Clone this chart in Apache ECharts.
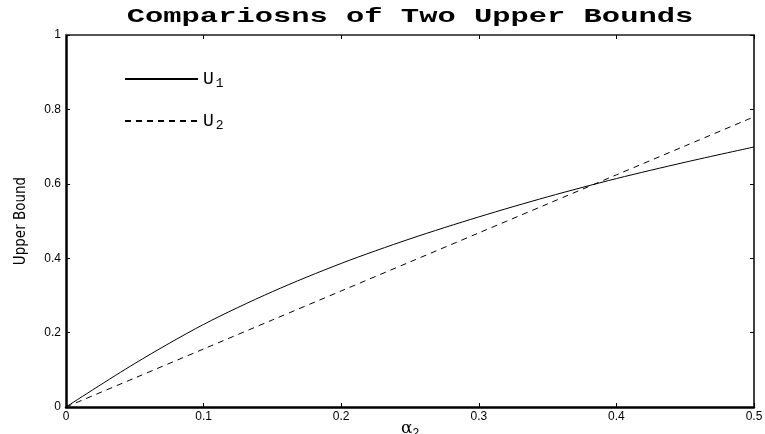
<!DOCTYPE html>
<html style="height: 100%">
<head>
  <meta charset="utf-8">
  <title>Comparisons of Two Upper Bounds</title>
  <script src="https://cdn.jsdelivr.net/npm/echarts@6/dist/echarts.min.js"></script>
</head>
<body style="height: 100%; margin: 0; background: #fff">
  <div id="main" style="width: 765px; height: 434px"></div>
  <script type="text/javascript">
    // values
    var alpha = [0, 0.05, 0.1, 0.15, 0.2, 0.25, 0.3, 0.35, 0.4, 0.45, 0.5];
    var u1 = [0, 0.117, 0.222, 0.31, 0.386, 0.452, 0.511, 0.565, 0.614, 0.658, 0.699];
    var u2 = [0, 0.078, 0.156, 0.234, 0.312, 0.39, 0.468, 0.546, 0.624, 0.702, 0.78];
    var xTicks = [0, 0.1, 0.2, 0.3, 0.4, 0.5];
    var yTicks = [0, 0.2, 0.4, 0.6, 0.8, 1];

    var labelFont = { fontFamily: 'Liberation Sans, Arial, sans-serif', fontSize: 12, color: '#000' };

    var option = {
      backgroundColor: '#fff',
      animation: false,
      graphic: [
        {
          type: 'text',
          x: 410,
          y: 27,
          scaleX: 1.45,
          style: {
            text: 'Compariosns of Two Upper Bounds',
            fontFamily: 'Liberation Mono, Courier New, monospace',
            fontWeight: 'bold',
            fontSize: 21,
            fill: '#000',
            textAlign: 'center',
            textVerticalAlign: 'bottom'
          }
        }
      ],
      legend: {
        orient: 'vertical',
        left: 124,
        top: 70,
        padding: 0,
        itemWidth: 73,
        itemHeight: 14,
        itemGap: 22,
        itemStyle: { opacity: 0 },
        data: ['U1', 'U2'],
        formatter: function (name) {
          return '{u|U}{s|' + name.slice(1) + '}';
        },
        textStyle: {
          rich: {
            u: { fontFamily: 'Liberation Mono, monospace', fontSize: 18, color: '#000' },
            s: { fontFamily: 'Liberation Mono, monospace', fontSize: 13, color: '#000', padding: [9, 0, 0, 2] }
          }
        }
      },
      grid: { left: 66, right: 11, top: 35, bottom: 27, outerBoundsMode: 'none' },
      xAxis: [
        {
          type: 'value',
          min: xTicks[0],
          max: xTicks[xTicks.length - 1],
          interval: 0.1,
          position: 'bottom',
          name: '{a|α}{s|2}',
          nameLocation: 'middle',
          nameGap: 11,
          nameMoveOverlap: false,
          nameTextStyle: {
            rich: {
              a: { fontFamily: 'DejaVu Serif, serif', fontSize: 17, color: '#000' },
              s: { fontFamily: 'Liberation Sans, sans-serif', fontSize: 12, color: '#000', padding: [10, 0, 0, 0] }
            }
          },
          axisLine: { onZero: false, lineStyle: { color: '#000', width: 2.5 } },
          axisTick: { inside: true, length: 4, lineStyle: { color: '#000', width: 1 } },
          axisLabel: Object.assign({ margin: 4 }, labelFont),
          splitLine: { show: false }
        },
        {
          type: 'value',
          min: xTicks[0],
          max: xTicks[xTicks.length - 1],
          interval: 0.1,
          position: 'top',
          axisLine: { onZero: false, lineStyle: { color: '#555', width: 2 } },
          axisTick: { inside: true, length: 4, lineStyle: { color: '#000', width: 1 } },
          axisLabel: { show: false },
          splitLine: { show: false }
        }
      ],
      yAxis: [
        {
          type: 'value',
          min: yTicks[0],
          max: yTicks[yTicks.length - 1],
          interval: 0.2,
          position: 'left',
          name: 'Upper Bound',
          nameLocation: 'middle',
          nameGap: 37,
          nameMoveOverlap: false,
          nameRotate: 90,
          nameTextStyle: {
            fontFamily: 'Liberation Sans Narrow, Arial Narrow, DejaVu Sans Condensed, sans-serif',
            fontSize: 15,
            color: '#000'
          },
          axisLine: { onZero: false, lineStyle: { color: '#000', width: 2.5 } },
          axisTick: { inside: true, length: 4, lineStyle: { color: '#000', width: 1 } },
          axisLabel: Object.assign({ margin: 5 }, labelFont),
          splitLine: { show: false }
        },
        {
          type: 'value',
          min: yTicks[0],
          max: yTicks[yTicks.length - 1],
          interval: 0.2,
          position: 'right',
          axisLine: { onZero: false, lineStyle: { color: '#000', width: 1.5 } },
          axisTick: { inside: true, length: 4, lineStyle: { color: '#000', width: 1 } },
          axisLabel: { show: false },
          splitLine: { show: false }
        }
      ],
      series: [
        {
          name: 'U1',
          type: 'line',
          symbol: 'none',
          smooth: 0.3,
          color: '#000',
          lineStyle: { color: '#000', width: 1 },
          data: alpha.map(function (a, i) { return [a, u1[i]]; })
        },
        {
          name: 'U2',
          type: 'line',
          symbol: 'none',
          smooth: 0.3,
          color: '#000',
          lineStyle: { color: '#000', width: 1, type: [6, 5] },
          data: alpha.map(function (a, i) { return [a, u2[i]]; })
        }
      ]
    };

    var chart = echarts.init(document.getElementById('main'));
    chart.setOption(option);
  </script>
</body>
</html>
